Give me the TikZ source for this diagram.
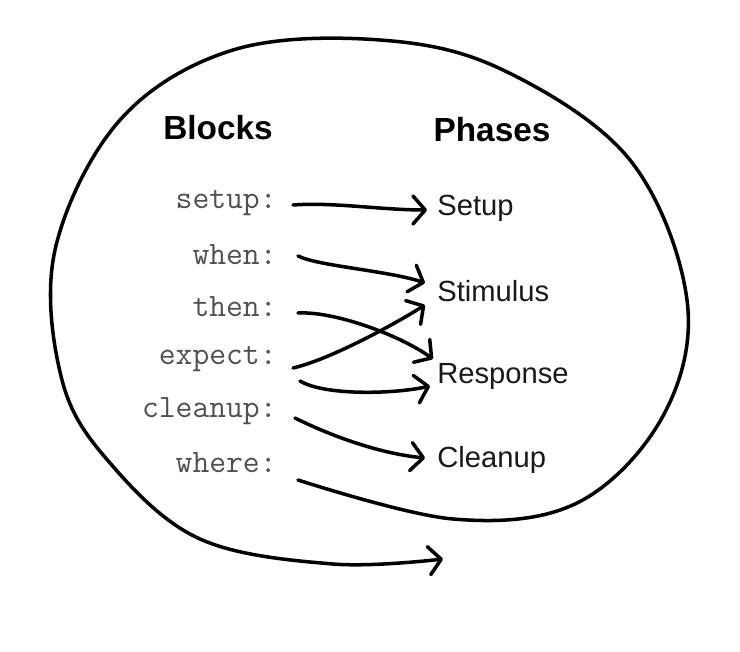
\documentclass[tikz,border=0pt]{standalone}
\usepackage{fontspec}
\setmainfont{Liberation Sans}
\usepackage{tikz}
\usetikzlibrary{arrows.meta,calc}
\definecolor{codegray}{HTML}{505050}

\begin{document}
\begin{tikzpicture}[x=0.02cm,y=-0.02cm,
  blk/.style={anchor=east,inner sep=0pt,font=\ttfamily\fontsize{18.6}{20}\selectfont,text=codegray},
  phs/.style={anchor=west,inner sep=0pt,font=\fontsize{16.6}{19}\selectfont,text=black!90},
  hd/.style={font=\bfseries\fontsize{19}{22}\selectfont},
  pen/.style={line width=2pt,line cap=round,line join=round,-{Straight Barb[length=7pt,width=16pt,round]}}]
  \useasboundingbox (0,0) rectangle (740,652);
  % headings
  \node[hd] (blocks) at (218,128) {Blocks};
  \node[hd] (phases) at (492,130) {Phases};
  % blocks, code labels on the left
  \foreach \n/\y in {setup/203,when/255,then/307,expect/359,cleanup/411,where/463}{
    \node[blk] (\n) at (277,\y) {\n:};
  }
  % phases on the right
  \node[phs] (pSetup) at (437,208) {Setup};
  \node[phs] (pStim) at (437,291) {Stimulus};
  \node[phs] (pResp) at (437,376) {Response};
  \node[phs] (pClean) at (437,460) {Cleanup};
  % block -> phase
  \draw[pen] ($(setup.east)+(16,2)$) .. controls +(40,-3) and +(-45,0) .. ($(pSetup.west)+(-10,2)$);
  \draw[pen] ($(when.east)+(21,1)$) .. controls +(20,10) and +(-35,-12) .. ($(pStim.west)+(-12,-8)$);
  \draw[pen] ($(then.east)+(21,6)$) .. controls +(35,-2) and +(-35,-25) .. ($(pResp.west)+(-4,-17)$);
  \draw[pen] ($(expect.east)+(16,9)$) .. controls +(35,-8) and +(-35,22) .. ($(pStim.west)+(-12,14)$);
  \draw[pen] ($(expect.east)+(23,22)$) .. controls +(25,15) and +(-35,8) .. ($(pResp.west)+(-7,10)$);
  \draw[pen] ($(cleanup.east)+(18,7)$) .. controls +(30,15) and +(-50,-5) .. ($(pClean.west)+(-12,-2)$);
  % where: goes round all of it
  \coordinate (loopstart) at ($(where.east)+(21,17)$);
  \coordinate (loopend) at (443,559);
  \draw[pen] plot[smooth,tension=0.6] coordinates {(loopstart) (453,519) (577,503)
    (663,416) (687,300) (630,160) (503,70) (380,40) (233,50) (120,120) (55,250)
    (62,380) (110,463) (200,539) (333,564) (loopend)};
\end{tikzpicture}
\end{document}
